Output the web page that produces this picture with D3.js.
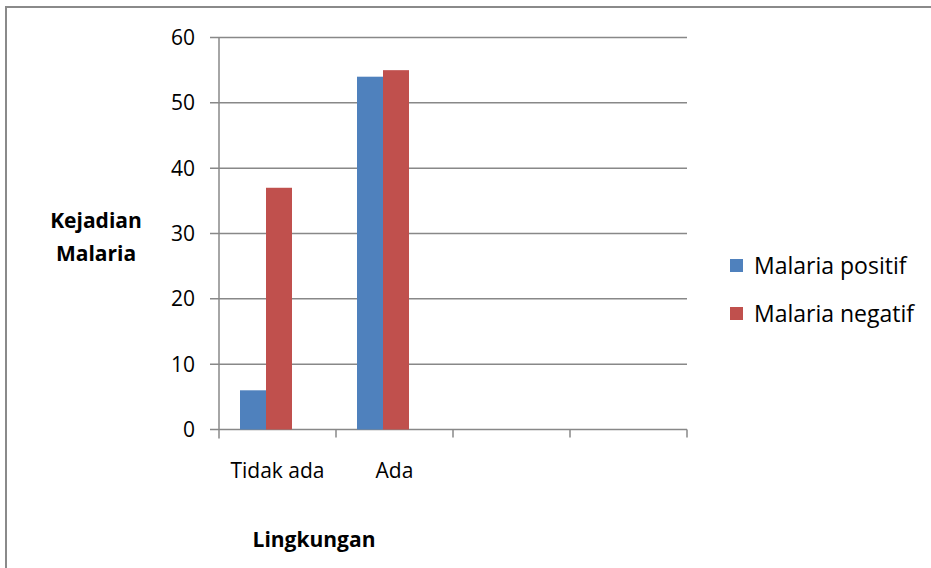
<!DOCTYPE html>
<html>
<head>
<meta charset="utf-8">
<script src="https://cdn.jsdelivr.net/npm/d3@7"></script>
<style>
  html, body { margin: 0; padding: 0; background: #fff; }
  svg { display: block; }
  text { font-family: "Open Sans", Lato, sans-serif; fill: #000; }
</style>
</head>
<body>
<svg id="chart" width="931" height="568"></svg>
<script>
// Categories on the x axis (two empty slots follow the labelled ones)
const categories = ["Tidak ada", "Ada", "", " "];
const seriesNames = ["Malaria positif", "Malaria negatif"];
const positif = [6, 54, null, null];
const negatif = [37, 55, null, null];
const yTicks = [0, 10, 20, 30, 40, 50, 60];
const colors = ["#4F81BD", "#C0504D"];

const svg = d3.select("#chart");
const plot = { left: 219, right: 687, top: 37.5, bottom: 429.5 };

// outer frame
svg.append("path")
  .attr("d", `M6,568 L6,7 L931,7`)
  .attr("fill", "none").attr("stroke", "#8a8a8a").attr("stroke-width", 2);

const x = d3.scaleBand().domain(categories).range([plot.left, plot.right]).padding(0);
const y = d3.scaleLinear().domain([0, 60]).range([plot.bottom, plot.top]);

// gridlines
svg.append("g").selectAll("line").data(yTicks).join("line")
  .attr("x1", plot.left - 9).attr("x2", plot.right)
  .attr("y1", d => y(d)).attr("y2", d => y(d))
  .attr("stroke", "#888").attr("stroke-width", 1.5);

// y axis line
svg.append("line")
  .attr("x1", plot.left).attr("x2", plot.left)
  .attr("y1", plot.top).attr("y2", plot.bottom + 9)
  .attr("stroke", "#888").attr("stroke-width", 1.5);

// category ticks
const catEdges = categories.map(c => x(c)).concat([plot.right]);
svg.append("g").selectAll("line").data(catEdges.slice(1)).join("line")
  .attr("x1", d => d).attr("x2", d => d)
  .attr("y1", plot.bottom).attr("y2", plot.bottom + 8)
  .attr("stroke", "#888").attr("stroke-width", 1.5);

// y tick labels
svg.append("g").selectAll("text").data(yTicks).join("text")
  .attr("x", 195).attr("y", d => y(d))
  .attr("dy", "0.36em").attr("text-anchor", "end")
  .attr("font-size", 21).text(d => d);

// bars: three-slot cluster layout with 150% gap
const bw = x.bandwidth();
const barW = bw / 4.5;
const offset = barW * 0.75 + 1.5;
const seriesData = [positif, negatif];
seriesData.forEach((vals, si) => {
  svg.append("g").selectAll("rect")
    .data(categories.map((c, i) => ({ c, v: vals[i] })).filter(d => d.v != null))
    .join("rect")
    .attr("x", d => x(d.c) + offset + si * barW)
    .attr("width", barW)
    .attr("y", d => y(d.v))
    .attr("height", d => y(0) - y(d.v))
    .attr("fill", colors[si]);
});

// category labels
svg.append("g").selectAll("text").data(categories.filter(c => c.trim())).join("text")
  .attr("x", d => x(d) + bw / 2)
  .attr("y", 478).attr("text-anchor", "middle")
  .attr("font-size", 21).text(d => d);

// axis titles
svg.append("text").attr("x", 314).attr("y", 547).attr("text-anchor", "middle")
  .attr("font-size", 21).attr("font-weight", "bold").text("Lingkungan");
const yt = svg.append("text").attr("text-anchor", "middle")
  .attr("font-size", 21).attr("font-weight", "bold");
yt.append("tspan").attr("x", 96).attr("y", 228).text("Kejadian");
yt.append("tspan").attr("x", 96).attr("y", 261).text("Malaria");

// legend
const lg = svg.append("g").selectAll("g").data(seriesNames).join("g")
  .attr("transform", (d, i) => `translate(730, ${259 + i * 48})`);
lg.append("rect").attr("width", 13).attr("height", 13).attr("fill", (d, i) => colors[i]);
lg.append("text").attr("x", 24).attr("y", 15)
  .attr("font-size", 23).text(d => d);
</script>
</body>
</html>
